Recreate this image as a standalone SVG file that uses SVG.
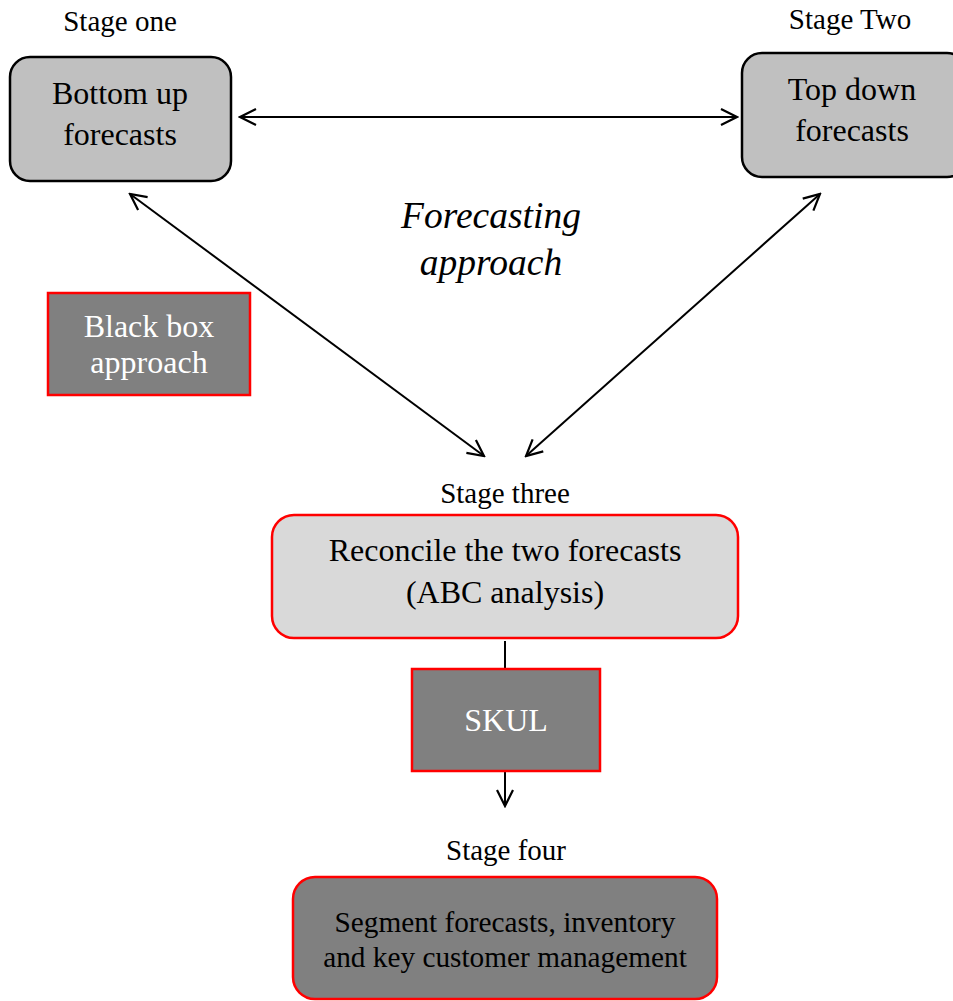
<svg xmlns="http://www.w3.org/2000/svg" width="953" height="1001" viewBox="0 0 953 1001">
  <style>
    text { font-family: "Liberation Serif", "Times New Roman", serif; text-anchor: middle; }
    .stage { font-size: 29px; fill: #000; }
    .label { font-size: 32px; fill: #000; }
    .light { fill: #fff; }
    .italic { font-size: 37.5px; font-style: italic; }
    .small { font-size: 29.3px; }
    .grey { fill: #c0c0c0; stroke: #000; stroke-width: 2.5; }
    .pale { fill: #d9d9d9; stroke: #ff0000; stroke-width: 2.5; }
    .dark { fill: #808080; stroke: #ff0000; stroke-width: 2.5; }
    .link { stroke: #000; stroke-width: 2; fill: none; }
  </style>
  <defs>
    <marker id="head" viewBox="0 0 20 20" refX="18" refY="10" markerWidth="20" markerHeight="20" markerUnits="userSpaceOnUse" orient="auto-start-reverse">
      <path d="M2,2 L18,10 L2,18" fill="none" stroke="#000" stroke-width="2.2"/>
    </marker>
  </defs>

  <g id="connectors">
    <line class="link" x1="240" y1="117" x2="737" y2="117" marker-start="url(#head)" marker-end="url(#head)"/>
    <line class="link" x1="130" y1="194" x2="484" y2="456" marker-start="url(#head)" marker-end="url(#head)"/>
    <line class="link" x1="820" y1="194" x2="526" y2="456" marker-start="url(#head)" marker-end="url(#head)"/>
    <line class="link" x1="505" y1="641" x2="505" y2="669"/>
    <line class="link" x1="505" y1="771" x2="505" y2="806" marker-end="url(#head)"/>
  </g>

  <g id="stage-one">
    <text class="stage" x="120" y="31">Stage one</text>
    <rect class="grey" x="10" y="57" width="221" height="124" rx="20"/>
    <text class="label" x="120" y="104">Bottom up</text>
    <text class="label" x="120" y="145">forecasts</text>
  </g>

  <g id="stage-two">
    <text class="stage" x="850" y="29">Stage Two</text>
    <rect class="grey" x="742" y="53" width="225" height="124" rx="20"/>
    <text class="label" x="852" y="100">Top down</text>
    <text class="label" x="852" y="141">forecasts</text>
  </g>

  <g id="forecasting-approach">
    <text class="label italic" x="491" y="228">Forecasting</text>
    <text class="label italic" x="491" y="275">approach</text>
  </g>

  <g id="black-box">
    <rect class="dark" x="48" y="293" width="202" height="102"/>
    <text class="label light" x="149" y="337">Black box</text>
    <text class="label light" x="149" y="373">approach</text>
  </g>

  <g id="stage-three">
    <text class="stage" x="505" y="503">Stage three</text>
    <rect class="pale" x="272" y="515" width="466" height="123" rx="22"/>
    <text class="label" x="505" y="561">Reconcile the two forecasts</text>
    <text class="label" x="505" y="603">(ABC analysis)</text>
  </g>

  <g id="skul">
    <rect class="dark" x="412" y="669" width="188" height="102"/>
    <text class="label light" x="506" y="731">SKUL</text>
  </g>

  <g id="stage-four">
    <text class="stage" x="506" y="860">Stage four</text>
    <rect class="dark" x="293" y="877" width="424" height="122" rx="22"/>
    <text class="label small" x="505" y="932">Segment forecasts, inventory</text>
    <text class="label small" x="505" y="967">and key customer management</text>
  </g>
</svg>
